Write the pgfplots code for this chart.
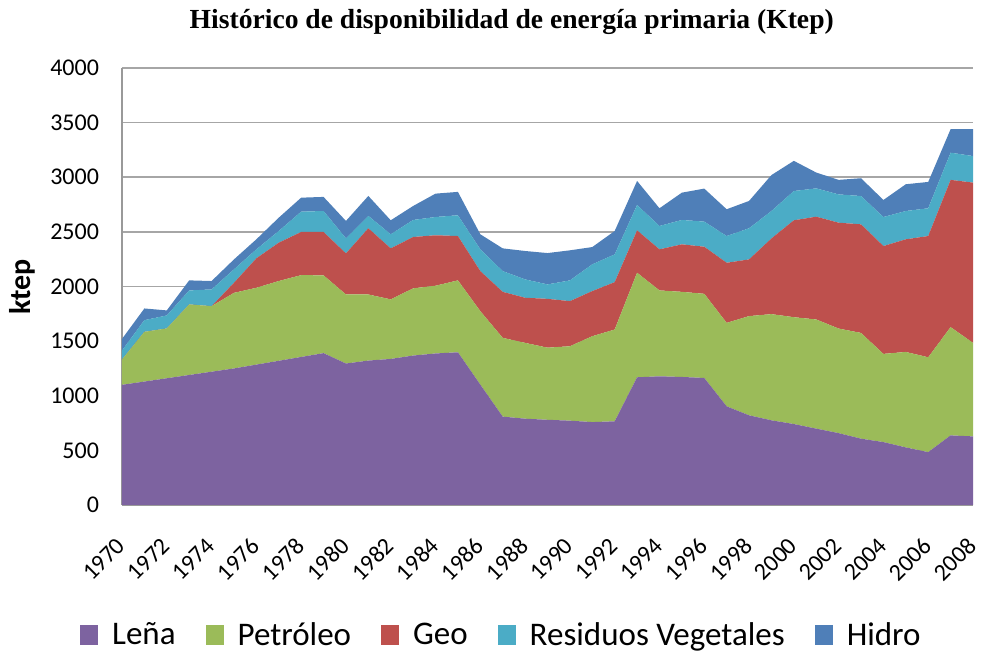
\documentclass[border=0pt]{standalone}
\usepackage{fontspec}
\setmainfont{Carlito}
\newfontfamily\titlefont{Liberation Serif}
\usepackage{pgfplots}
\usepackage{pgfplotstable}
\pgfplotsset{compat=1.18}

\definecolor{lena}{HTML}{7D63A0}
\definecolor{petroleo}{HTML}{9BBB59}
\definecolor{geo}{HTML}{BE504D}
\definecolor{residuos}{HTML}{4BACC6}
\definecolor{hidro}{HTML}{4F7FB8}

% ktep por fuente
\pgfplotstableread{
year lena petroleo geo residuos hidro
1970 1100 231    0  83 106
1971 1130 455    0 107 107
1972 1160 456    0 119  46
1973 1190 646    0 128  92
1974 1220 600    0 153  77
1975 1250 692   92 123  91
1976 1285 703  270  82  92
1977 1320 730  351 107 122
1978 1355 749  395 186 128
1979 1390 712  397 192 129
1980 1295 632  376 138 159
1981 1322 605  606 113 183
1982 1337 545  467 129 128
1983 1368 615  470 156 128
1984 1387 620  462 167 214
1985 1398 658  406 190 214
1986 1102 672  367 199 138
1987  809 721  421 190 208
1988  790 694  413 168 260
1989  780 660  447 132 287
1990  772 681  413 190 275
1991  759 786  413 245 158
1992  766 840  434 254 214
1993 1169 957  388 232 220
1994 1178 786  376 214 162
1995 1172 779  435 223 250
1996 1163 770  431 230 302
1997  903 764  550 245 245
1998  821 908  519 285 250
1999  775 972  693 251 329
2000  741 978  887 268 276
2001  699 999  941 259 145
2002  658 957  969 259 133
2003  607 968  994 259 163
2004  576 807  987 266 156
2005  527 874 1031 259 245
2006  484 868 1110 254 241
2007  637 991 1348 249 215
2008  628 856 1467 243 246
}\energia

\begin{document}
\begin{tikzpicture}
\useasboundingbox (-61pt,-74pt) rectangle (430pt,252.5pt);
\begin{axis}[
  scale only axis,
  width=425.5pt, height=218.5pt,
  stack plots=y,
  xmin=1970, xmax=2008,
  ymin=0, ymax=4000,
  xtick={1970,1972,...,2008},
  ytick={0,500,...,4000},
  axis x line=bottom, axis y line=left,
  axis line style={-, draw=gray!80, line width=0.8pt},
  major tick length=0pt,
  ymajorgrids,
  major grid style={gray!70, line width=0.8pt},
  /pgf/number format/1000 sep={},
  /pgf/number format/assume math mode=true,
  ticklabel style={font=\fontsize{12}{14}\selectfont},
  yticklabel style={xshift=-8pt},
  xticklabel style={xshift=2pt, yshift=-16pt, rotate=45, anchor=east},
  ylabel={\textbf{ktep}},
  every axis y label/.style={at={(axis description cs:-0.117,0.499)}, rotate=90, anchor=center, font=\fontsize{15}{17}\selectfont},
  title={\titlefont\bfseries Histórico de disponibilidad de energía primaria (Ktep)},
  every axis title/.style={at={(axis description cs:0.458,1.105)}, anchor=center, font=\fontsize{13.8}{16}\selectfont},
  legend columns=-1,
  legend style={at={(axis description cs:0.447,-0.298)}, anchor=center, draw=none,
    font=\fontsize{16.5}{18}\selectfont,
    /tikz/every odd column/.append style={column sep=5pt},
    /tikz/every even column/.append style={column sep=13pt}},
  legend cell align=left,
  legend image code/.code={\fill[#1] (0pt,-5pt) rectangle (9pt,5pt);},
]
\addplot[fill=lena, draw=none] table[x=year, y=lena] {\energia} \closedcycle;
\addplot[fill=petroleo, draw=none] table[x=year, y=petroleo] {\energia} \closedcycle;
\addplot[fill=geo, draw=none] table[x=year, y=geo] {\energia} \closedcycle;
\addplot[fill=residuos, draw=none] table[x=year, y=residuos] {\energia} \closedcycle;
\addplot[fill=hidro, draw=none] table[x=year, y=hidro] {\energia} \closedcycle;
\legend{Leña, Petróleo, Geo, Residuos Vegetales, Hidro}
\end{axis}
\end{tikzpicture}
\end{document}
